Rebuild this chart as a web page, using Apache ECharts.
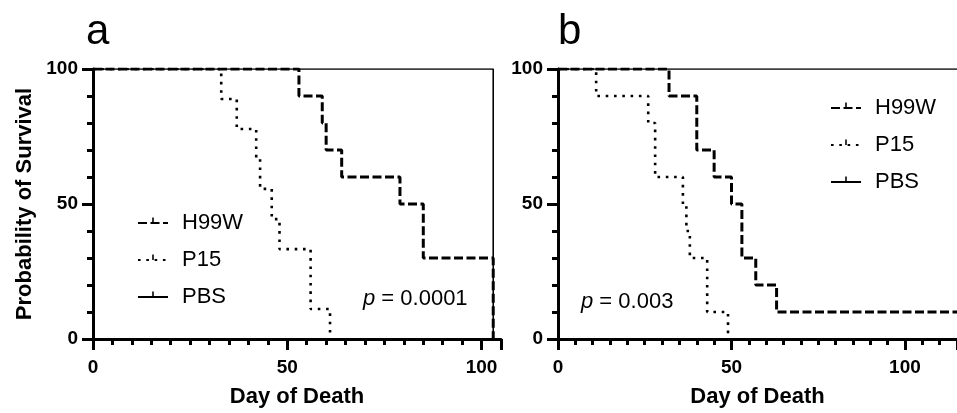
<!DOCTYPE html>
<html>
<head>
<meta charset="utf-8">
<script src="https://cdn.jsdelivr.net/npm/echarts@6/dist/echarts.min.js"></script>
<style>
  html, body { margin: 0; padding: 0; background: #fff; }
  #chart { width: 957px; height: 413px; }
</style>
</head>
<body>
<div id="chart"></div>
<script>
// panel a
var aH99WDay = [0, 53, 59, 60, 64, 79, 85, 103];
var aH99WSurv = [100, 90, 80, 70, 60, 50, 30, 0];
var aP15Day = [0, 33, 37, 42, 43, 46, 48, 56, 56, 61];
var aP15Surv = [100, 88.9, 77.8, 66.7, 55.6, 44.4, 33.3, 22.2, 11.1, 0];
var aPBSDay = [0, 103];
var aPBSSurv = [100, 0];
// panel b
var bH99WDay = [0, 32, 40, 45, 50, 53, 57, 63, 115];
var bH99WSurv = [100, 90, 70, 60, 50, 30, 20, 10, 10];
var bP15Day = [0, 11, 26, 28, 36, 37, 38, 43, 49];
var bP15Surv = [100, 90, 80, 60, 50, 40, 30, 10, 0];
var bPBSDay = [0, 115];
var bPBSSurv = [100, 100];

var groups = ['H99W', 'P15', 'PBS'];
var pValues = ['0.0001', '0.003'];

var font = "'Liberation Sans', Arial, sans-serif";
var tickMark = 'path://M4.3,0H5.7V5H4.3Z M0,10H10';

function zip(xs, ys) {
    return xs.map(function (x, i) { return [x, ys[i]]; });
}

function xAxis(idx, max) {
    return {
        type: 'value', gridIndex: idx, min: 0, max: max, interval: 50,
        name: 'Day of Death', nameLocation: 'middle', nameGap: 47,
        nameTextStyle: { fontFamily: font, fontSize: 22, fontWeight: 'bold', color: '#000' },
        axisLine: { lineStyle: { color: '#000', width: 3 } },
        axisTick: { length: 11, lineStyle: { color: '#000', width: 3 } },
        minorTick: { show: true, splitNumber: 10, length: 6, lineStyle: { color: '#000', width: 3 } },
        axisLabel: { margin: 19, showMaxLabel: false, fontFamily: font, fontSize: 19, fontWeight: 'bold', color: '#000' },
        splitLine: { show: false }
    };
}

function yAxis(idx, withName) {
    return {
        type: 'value', gridIndex: idx, min: 0, max: 100, interval: 50,
        name: withName ? 'Probability of Survival' : '', nameLocation: 'middle', nameGap: 57,
        nameTextStyle: { fontFamily: font, fontSize: 22, fontWeight: 'bold', color: '#000' },
        axisLine: { show: true, lineStyle: { color: '#000', width: 3 } },
        axisTick: { show: true, length: 11, lineStyle: { color: '#000', width: 3 } },
        minorTick: { show: true, splitNumber: 5, length: 6, lineStyle: { color: '#000', width: 3 } },
        axisLabel: { margin: 15, fontFamily: font, fontSize: 19, fontWeight: 'bold', color: '#000' },
        splitLine: { show: false }
    };
}

function km(name, idx, data, kind) {
    var ls = { color: '#000', width: 1.6, type: 'solid' };
    var z = 2;
    if (kind === 'dash') { ls = { color: '#000', width: 3, type: [9, 3.5] }; z = 4; }
    if (kind === 'dot') { ls = { color: '#000', width: 2.6, type: [2.6, 5.7] }; z = 3; }
    return {
        name: name, type: 'line', xAxisIndex: idx, yAxisIndex: idx,
        step: 'end', data: data, z: z,
        symbol: tickMark, showSymbol: false,
        itemStyle: { color: '#000' },
        lineStyle: ls
    };
}

function legend(left, top) {
    return {
        orient: 'vertical', left: left, top: top, padding: 0,
        itemWidth: 30, itemHeight: 14, itemGap: 15,
        data: groups, selectedMode: false,
        textStyle: { fontFamily: font, fontSize: 22, lineHeight: 22, color: '#000', padding: [0, 0, 0, 9] }
    };
}

function pText(value, left, top) {
    return {
        text: '{i|p} = ' + value, left: left, top: top, padding: 0,
        textStyle: { fontFamily: font, fontSize: 22, fontWeight: 'normal', color: '#000',
            rich: { i: { fontFamily: font, fontSize: 22, fontStyle: 'italic', color: '#000' } } }
    };
}

var chart = echarts.init(document.getElementById('chart'));
chart.setOption({
    animation: false,
    title: [
        { text: 'a', left: 86, top: 11, padding: 0, textStyle: { fontFamily: font, fontSize: 42, fontWeight: 'normal', color: '#000' } },
        { text: 'b', left: 558, top: 11, padding: 0, textStyle: { fontFamily: font, fontSize: 42, fontWeight: 'normal', color: '#000' } },
        pText(pValues[0], 363, 288),
        pText(pValues[1], 581, 291)
    ],
    legend: [legend(137, 212), legend(830, 97)],
    grid: [
        { left: 93, top: 69, width: 408, height: 273 },
        { left: 558, top: 69, width: 407.6, height: 273 }
    ],
    xAxis: [xAxis(0, 105), xAxis(1, 115)],
    yAxis: [yAxis(0, true), yAxis(1, false)],
    series: [
        km('H99W', 0, zip(aH99WDay, aH99WSurv), 'dash'),
        km('P15', 0, zip(aP15Day, aP15Surv), 'dot'),
        km('PBS', 0, zip(aPBSDay, aPBSSurv), 'solid'),
        km('H99W', 1, zip(bH99WDay, bH99WSurv), 'dash'),
        km('P15', 1, zip(bP15Day, bP15Surv), 'dot'),
        km('PBS', 1, zip(bPBSDay, bPBSSurv), 'solid')
    ]
});
</script>
</body>
</html>
